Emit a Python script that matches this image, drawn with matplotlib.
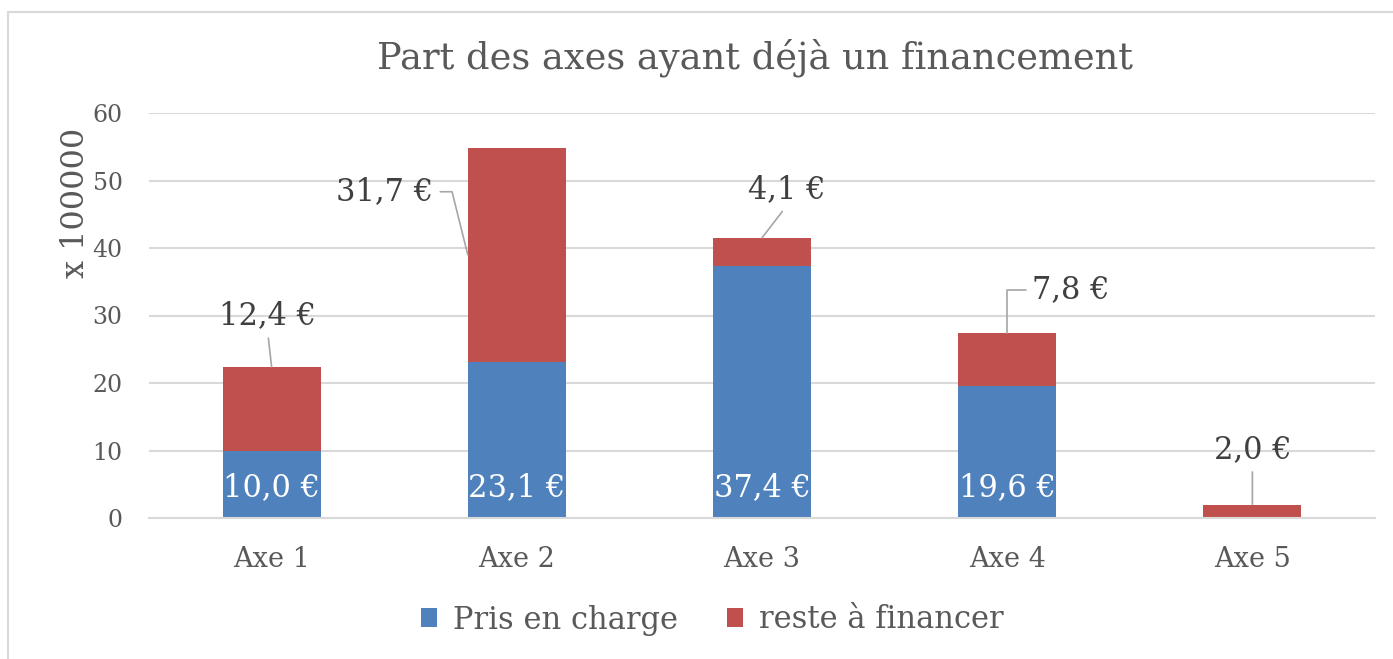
import matplotlib.pyplot as plt
from matplotlib.patches import Rectangle

plt.switch_backend('Agg')
plt.rcParams['font.family'] = ['DejaVu Serif']

# Data (values in units of 100000 €)
axes_names = ['Axe 1', 'Axe 2', 'Axe 3', 'Axe 4', 'Axe 5']
pris_en_charge = [10.0, 23.1, 37.4, 19.6, 0.0]
reste_a_financer = [12.4, 31.7, 4.1, 7.8, 2.0]
yticks = [0, 10, 20, 30, 40, 50, 60]

blue = '#4F81BD'
red = '#C0504D'
grid_col = '#D9D9D9'
txt_col = '#595959'
lab_col = '#404040'

W, H = 1393, 659
fig = plt.figure(figsize=(W / 100, H / 100), dpi=100)
ax = fig.add_axes([149 / W, (H - 518) / H, (1375 - 149) / W, (518 - 113) / H])

x = list(range(len(axes_names)))
width = 0.4
bars_b = ax.bar(x, pris_en_charge, width, color=blue, label='Pris en charge', zorder=2)
bars_r = ax.bar(x, reste_a_financer, width, bottom=pris_en_charge, color=red,
                label='reste à financer', zorder=2)

ax.set_xlim(-0.5, len(x) - 0.5)
ax.set_ylim(0, 60)
ax.set_yticks(yticks)
ax.set_xticks(x)
ax.set_xticklabels(axes_names)
ax.yaxis.grid(True, color=grid_col, linewidth=1.5, zorder=0)
ax.tick_params(axis='y', length=0, pad=19, labelsize=17, labelcolor=txt_col)
ax.tick_params(axis='x', length=0, pad=20, labelsize=19.5, labelcolor=txt_col)
for s in ['top', 'right', 'left']:
    ax.spines[s].set_visible(False)
ax.spines['bottom'].set_color(grid_col)
ax.spines['bottom'].set_linewidth(1.5)


def fmt(v):
    return f'{v:.1f}'.replace('.', ',') + ' €'


# white labels at the base of the blue bars, clipped to the bar
for i, (v, b) in enumerate(zip(pris_en_charge, bars_b)):
    if v <= 0:
        continue
    t = ax.annotate(fmt(v), xy=(i, 0), xytext=(0, 30), textcoords='offset pixels',
                    ha='center', va='center', fontsize=22, color='white', zorder=3)
    t.set_clip_path(b)

# red labels with leader lines: (anchor x shift, anchor y, text offset px, relpos, connection)
lead = dict(color='#A6A6A6', lw=1.2, arrowstyle='-', shrinkA=3, shrinkB=0)
tops = [p + r for p, r in zip(pris_en_charge, reste_a_financer)]
label_setup = [
    (0.0, tops[0], (-4, 51), (0.5, 0.0), 'arc3'),
    (-width / 2, 39.0, (-83, 63), (1.0, 0.5), 'angle,angleA=0,angleB=104,rad=0'),
    (0.0, tops[2], (25, 48), (0.5, 0.0), 'arc3'),
    (0.0, tops[3], (64, 43), (0.0, 0.5), 'angle,angleA=0,angleB=90,rad=0'),
    (0.0, tops[4], (0, 55), (0.5, 0.0), 'arc3'),
]
for i, v in enumerate(reste_a_financer):
    dx, ay, off, rp, cs = label_setup[i]
    ap = dict(lead, relpos=rp, connectionstyle=cs)
    ax.annotate(fmt(v), xy=(i + dx, ay), xytext=off, textcoords='offset pixels',
                ha='center', va='center', fontsize=22, color=lab_col,
                arrowprops=ap, zorder=3)

fig.text(755 / W, 1 - 58 / H, 'Part des axes ayant déjà un financement',
         ha='center', va='center', fontsize=26.5, color=txt_col)
fig.text(76 / W, 1 - 203 / H, 'x 100000', rotation=90, ha='center', va='center',
         fontsize=23, color=txt_col)

leg = fig.legend(handles=[bars_b, bars_r], loc='center', bbox_to_anchor=(712 / W, 1 - 620 / H),
                 ncol=2, frameon=False, fontsize=22, handlelength=0.55, handleheight=0.55,
                 handletextpad=0.5, columnspacing=1.6, labelcolor=txt_col)

# outer chart border
fig.patches.append(Rectangle((8 / W, -0.1), 1.2, 1 - 12 / H + 0.1, transform=fig.transFigure,
                             fill=False, edgecolor='#D9D9D9', linewidth=1.5))

fig.savefig('out.png', dpi=100, facecolor='white')
